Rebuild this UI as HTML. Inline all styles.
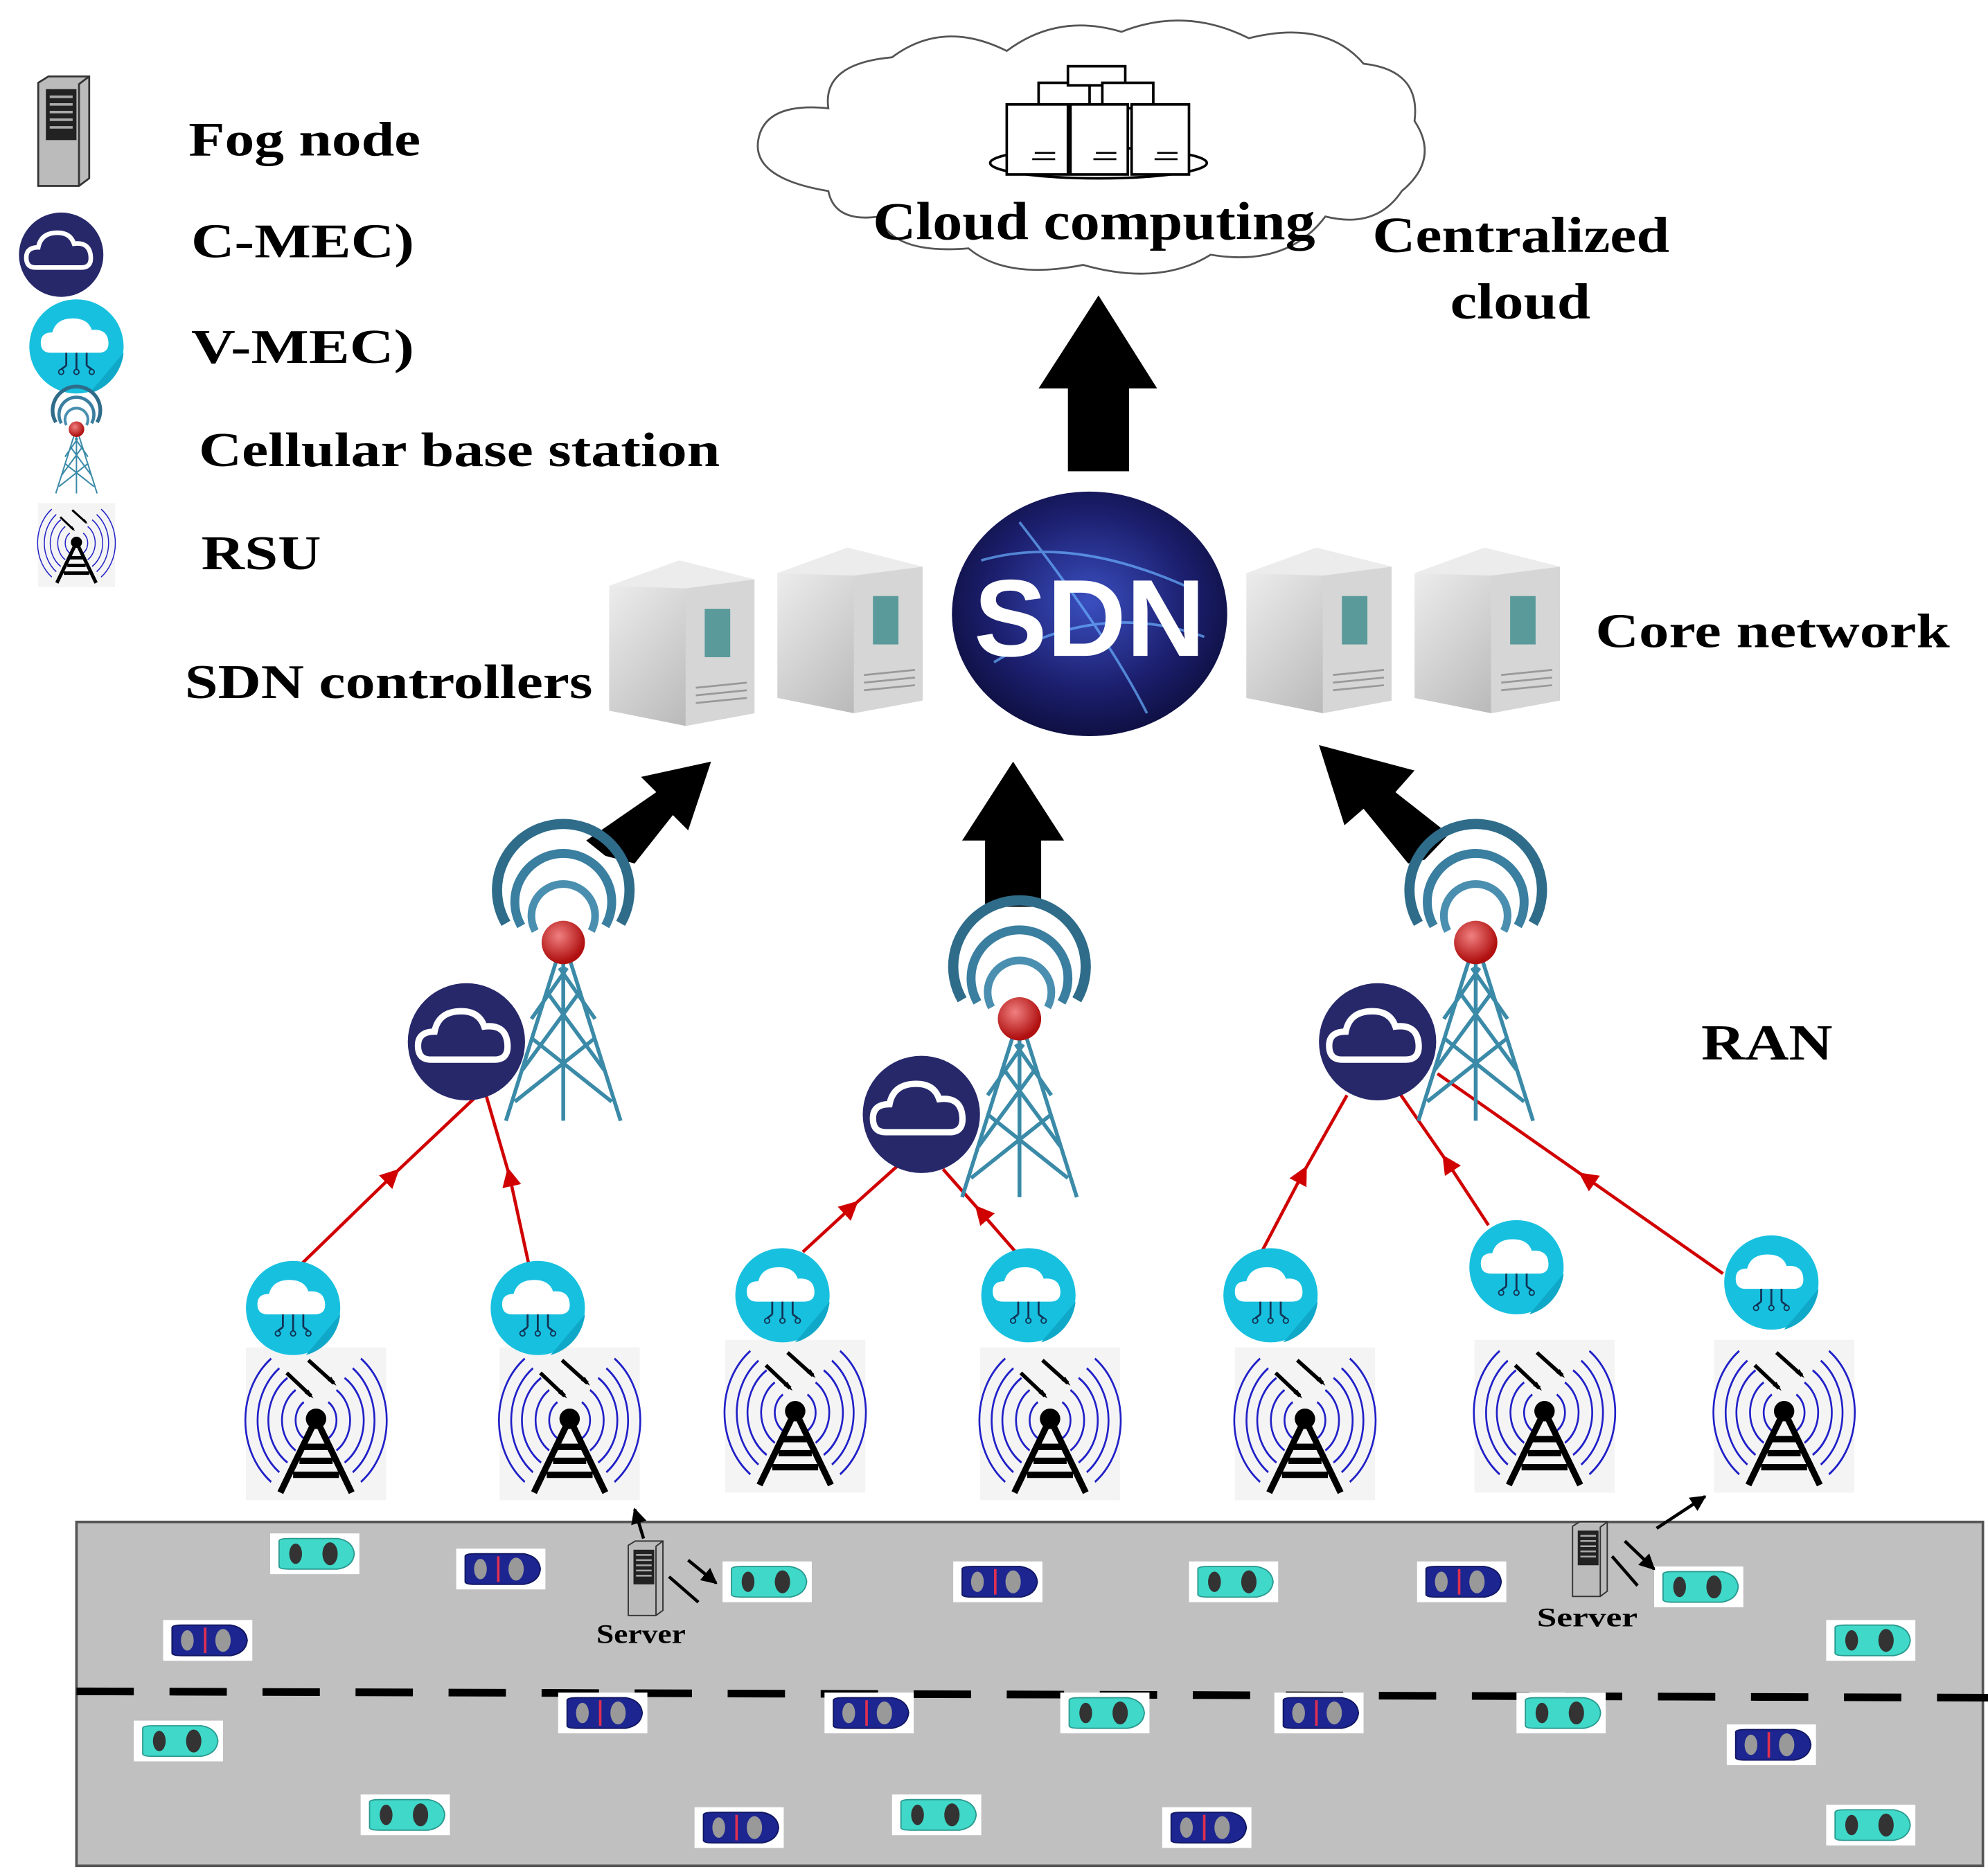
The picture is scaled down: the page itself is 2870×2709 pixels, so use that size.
<!DOCTYPE html>
<html><head><meta charset="utf-8"><style>
html,body{margin:0;padding:0;background:#fff}
svg{display:block}
text{font-family:"Liberation Serif",serif;font-weight:bold;fill:#000}
</style></head><body>
<svg width="2870" height="2709" viewBox="0 0 1560 1473" preserveAspectRatio="none" xmlns="http://www.w3.org/2000/svg">
<defs>
<radialGradient id="sdn" cx="0.5" cy="0.45" r="0.6"><stop offset="0" stop-color="#3a4fc0"/><stop offset="0.6" stop-color="#1c1f6e"/><stop offset="1" stop-color="#0b0c38"/></radialGradient>
<linearGradient id="srv" x1="0" y1="0" x2="1" y2="1"><stop offset="0" stop-color="#f2f2f2"/><stop offset="1" stop-color="#a8a8a8"/></linearGradient>
<radialGradient id="ball" cx="0.4" cy="0.35" r="0.6"><stop offset="0" stop-color="#f08080"/><stop offset="1" stop-color="#b01010"/></radialGradient>
<g id="server">
  <path d="M0 20 L55 0 L114 15 L114 120 L60 130 L0 118 Z" fill="url(#srv)"/>
  <path d="M60 22 L114 15 L114 120 L60 130 Z" fill="#d6d6d6"/>
  <path d="M0 20 L55 0 L114 15 L60 22 Z" fill="#ececec"/>
  <rect x="75" y="38" width="20" height="38" fill="#5a9a9a"/>
  <path d="M68 100 L108 96 M68 106 L108 102 M68 112 L108 108" stroke="#999" stroke-width="1.5"/>
</g>
<g id="celltower">
  <path d="M-45 -5 A52 52 0 1 1 45 -5" fill="none" stroke="#2e6c8a" stroke-width="8" transform="translate(0,-10)"/>
  <path d="M-33 -5 A38 38 0 1 1 33 -5" fill="none" stroke="#3a7ea0" stroke-width="7" transform="translate(0,-8)"/>
  <path d="M-22 -3 A25 25 0 1 1 22 -3" fill="none" stroke="#4a8fb0" stroke-width="6" transform="translate(0,-6)"/>
  <path d="M-4 10 L-45 140 M4 10 L45 140 M-3 20 L25 60 M3 20 L-25 60 M-12 40 L32 100 M12 40 L-32 100 M-25 75 L38 125 M25 75 L-38 125 M0 10 L0 140" stroke="#3a8aa8" stroke-width="3" fill="none"/>
  <circle cx="0" cy="0" r="17" fill="url(#ball)"/>
</g>
<g id="cmec">
  <circle r="46" fill="#27286a"/>
  <path d="M-28 14 Q-38 14 -38 3 Q-38 -8 -25 -8 Q-22 -24 -4 -24 Q10 -24 14 -12 Q30 -14 32 0 Q34 14 22 14 Z" fill="none" stroke="#fff" stroke-width="5"/>
</g>
<g id="vmec">
  <circle r="37" fill="#18c0df"/>
  <path d="M10 37 L37 5 A37 37 0 0 1 10 37Z" fill="#10a8c8"/>
  <path d="M-20 5 Q-28 5 -28 -3 Q-28 -11 -19 -11 Q-16 -22 -3 -22 Q9 -22 12 -13 Q24 -14 25 -4 Q26 5 17 5 Z" fill="#fff"/>
  <path d="M-8 5 L-8 15 M0 5 L0 18 M8 5 L8 15 M-8 15 L-12 18 M8 15 L12 18" stroke="#135" stroke-width="1.5" fill="none"/>
  <circle cx="-12" cy="20" r="2" fill="none" stroke="#135"/><circle cx="0" cy="20" r="2" fill="none" stroke="#135"/><circle cx="12" cy="20" r="2" fill="none" stroke="#135"/>
</g>
<g id="rsu">
  <rect x="-55" y="-60" width="110" height="120" fill="#f4f4f4"/>
  <g fill="none" stroke="#2020c8" stroke-width="1.8" transform="scale(0.8,0.95)">
    <path d="M-12 -18 A18 18 0 0 0 -12 12"/><path d="M12 -18 A18 18 0 0 1 12 12"/>
    <path d="M-20 -28 A30 30 0 0 0 -20 22"/><path d="M20 -28 A30 30 0 0 1 20 22"/>
    <path d="M-28 -38 A42 42 0 0 0 -28 32"/><path d="M28 -38 A42 42 0 0 1 28 32"/>
    <path d="M-36 -46 A54 54 0 0 0 -36 40"/><path d="M36 -46 A54 54 0 0 1 36 40"/>
    <path d="M-44 -54 A64 64 0 0 0 -44 48"/><path d="M44 -54 A64 64 0 0 1 44 48"/>
  </g>
  <circle cx="0" cy="-4" r="8" fill="#000"/>
  <path d="M0 -4 L-28 54 M0 -4 L28 54 M-9 18 L9 18 M-13 29 L13 29 M-18 40 L18 40" stroke="#000" stroke-width="5" fill="none"/>
  <path d="M-23 -40 L-4 -22 M-6 -50 L14 -32" stroke="#000" stroke-width="3"/>
  <path d="M-2 -20 L-9 -24 L-6 -27Z M16 -30 L9 -34 L12 -37Z" fill="#000"/>
</g>
<g id="teal">
  <rect x="-35" y="-16" width="70" height="32" fill="#fff"/>
  <path d="M-28 -10 Q-28 -12 -20 -12 L18 -12 Q30 -10 31 0 Q30 10 18 12 L-20 12 Q-28 12 -28 10 Z" fill="#40d8c8" stroke="#2a9a90" stroke-width="1"/>
  <ellipse cx="-15" cy="0" rx="5" ry="8" fill="#333"/><ellipse cx="12" cy="0" rx="6" ry="9" fill="#333"/>
</g>
<g id="navy">
  <rect x="-35" y="-16" width="70" height="32" fill="#fff"/>
  <path d="M-28 -10 Q-28 -12 -20 -12 L18 -12 Q30 -10 31 0 Q30 10 18 12 L-20 12 Q-28 12 -28 10 Z" fill="#1c2590" stroke="#101660" stroke-width="1"/>
  <ellipse cx="-16" cy="0" rx="5" ry="8" fill="#999"/><ellipse cx="12" cy="0" rx="6" ry="9" fill="#999"/>
  <path d="M-2 -10 L-2 10" stroke="#e03050" stroke-width="2"/>
</g>
<g id="fog">
  <path d="M0 5 L8 0 L40 0 L40 80 L32 86 L0 86 Z" fill="#bbb" stroke="#333" stroke-width="1.5"/>
  <rect x="6" y="10" width="24" height="40" fill="#222"/>
  <path d="M9 16 H27 M9 22 H27 M9 28 H27 M9 34 H27 M9 40 H27" stroke="#aaa" stroke-width="2"/>
  <path d="M32 86 L32 6 L40 0" fill="none" stroke="#333" stroke-width="1.5"/>
</g>
<marker id="ra" viewBox="0 0 10 10" refX="5" refY="5" markerWidth="6" markerHeight="6" orient="auto"><path d="M0 0 L10 5 L0 10Z" fill="#d00000"/></marker>
<marker id="ba" viewBox="0 0 10 10" refX="9" refY="5" markerWidth="5" markerHeight="5" orient="auto"><path d="M0 0 L10 5 L0 10Z" fill="#000"/></marker>
</defs>

<!-- legend -->
<g transform="translate(30,60)"><use href="#fog"/></g>
<text x="148" y="122" font-size="38" textLength="182" lengthAdjust="spacingAndGlyphs">Fog node</text>
<g transform="translate(48,200) scale(0.72)"><use href="#cmec"/></g>
<text x="150" y="202" font-size="38" textLength="175" lengthAdjust="spacingAndGlyphs">C-MEC)</text>
<g transform="translate(60,272)"><use href="#vmec"/></g>
<text x="150" y="285" font-size="38" textLength="175" lengthAdjust="spacingAndGlyphs">V-MEC)</text>
<g transform="translate(60,337) scale(0.36)"><use href="#celltower"/></g>
<text x="156" y="366" font-size="38" textLength="409" lengthAdjust="spacingAndGlyphs">Cellular base station</text>
<g transform="translate(60,428) scale(0.55)"><use href="#rsu"/></g>
<text x="158" y="447" font-size="38" textLength="94" lengthAdjust="spacingAndGlyphs">RSU</text>

<!-- cloud -->
<path d="M650 150 Q590 140 595 110 Q600 80 650 85 Q645 50 700 45 Q740 15 790 40 Q830 10 880 25 Q930 5 980 30 Q1040 15 1070 50 Q1115 55 1110 95 Q1130 125 1100 150 Q1080 180 1040 170 Q1010 210 950 200 Q910 225 850 208 Q790 220 760 195 Q700 200 690 170 Q655 175 650 150 Z" fill="#fff" stroke="#555" stroke-width="1.5"/>
<g fill="#fff" stroke="#000" stroke-width="2">
<ellipse cx="862" cy="128" rx="85" ry="12"/>
<rect x="815" y="65" width="40" height="20"/><rect x="838" y="52" width="45" height="15"/><rect x="865" y="65" width="40" height="20"/>
<rect x="790" y="82" width="48" height="55"/><rect x="840" y="82" width="45" height="55"/><rect x="888" y="82" width="45" height="55"/>
</g>
<path d="M810 125 H828 M858 125 H876 M906 125 H924 M812 120 H828 M860 120 H876 M908 120 H924" stroke="#000" stroke-width="1.5"/>
<text x="685" y="188" font-size="42" textLength="347" lengthAdjust="spacingAndGlyphs">Cloud computing</text>
<text x="1077" y="198" font-size="40" textLength="233" lengthAdjust="spacingAndGlyphs">Centralized</text>
<text x="1138" y="250" font-size="40" textLength="110" lengthAdjust="spacingAndGlyphs">cloud</text>

<!-- big arrows -->
<path d="M838 370 L838 305 L815 305 L862 232 L908 305 L886 305 L886 370 Z" fill="#000"/>
<path d="M773 712 L773 660 L755 660 L795 598 L835 660 L817 660 L817 712 Z" fill="#000"/>
<path d="M475 672 L460 660 L515 622 L503 610 L558 598 L540 652 L528 640 L498 678 Z" fill="#000"/>
<path d="M1118 675 L1137 655 L1095 622 L1110 605 L1035 585 L1055 648 L1070 635 L1105 678 Z" fill="#000"/>

<!-- servers + SDN -->
<g transform="translate(478,440)"><use href="#server"/></g>
<g transform="translate(610,430)"><use href="#server"/></g>
<g transform="translate(978,430)"><use href="#server"/></g>
<g transform="translate(1110,430)"><use href="#server"/></g>
<ellipse cx="855" cy="482" rx="108" ry="96" fill="url(#sdn)"/>
<path d="M770 440 Q840 420 930 460 M780 520 Q860 470 945 500 M800 410 Q870 500 900 560" stroke="#6ab0ff" stroke-width="2" fill="none" opacity="0.7"/>
<text x="855" y="515" font-size="86" text-anchor="middle" style="font-family:'Liberation Sans',sans-serif;fill:#fff">SDN</text>
<text x="145" y="548" font-size="38" textLength="320" lengthAdjust="spacingAndGlyphs">SDN controllers</text>
<text x="1252" y="508" font-size="38" textLength="278" lengthAdjust="spacingAndGlyphs">Core network</text>
<text x="1335" y="832" font-size="40" textLength="103" lengthAdjust="spacingAndGlyphs">RAN</text>

<!-- red links -->
<g stroke="#d00000" stroke-width="2.5" fill="none">
<path d="M237 992 L308 923" marker-end="url(#ra)"/><path d="M308 923 L380 855"/>
<path d="M415 993 L400 924" marker-end="url(#ra)"/><path d="M400 924 L380 855"/>
<path d="M630 983 L668 948" marker-end="url(#ra)"/><path d="M668 948 L707 913"/>
<path d="M797 983 L770 952" marker-end="url(#ra)"/><path d="M770 952 L740 918"/>
<path d="M990 983 L1022 922" marker-end="url(#ra)"/><path d="M1022 922 L1057 860"/>
<path d="M1168 962 L1136 913" marker-end="url(#ra)"/><path d="M1136 913 L1098 858"/>
<path d="M1352 1000 L1245 925" marker-end="url(#ra)"/><path d="M1245 925 L1128 843"/>
</g>

<!-- cell towers + C-MEC -->
<g transform="translate(442,740)"><use href="#celltower"/></g>
<g transform="translate(800,800)"><use href="#celltower"/></g>
<g transform="translate(1158,740)"><use href="#celltower"/></g>
<g transform="translate(366,818)"><use href="#cmec"/></g>
<g transform="translate(723,875)"><use href="#cmec"/></g>
<g transform="translate(1081,818)"><use href="#cmec"/></g>

<!-- RSUs -->
<g transform="translate(248,1118)"><use href="#rsu"/></g>
<g transform="translate(447,1118)"><use href="#rsu"/></g>
<g transform="translate(624,1112)"><use href="#rsu"/></g>
<g transform="translate(824,1118)"><use href="#rsu"/></g>
<g transform="translate(1024,1118)"><use href="#rsu"/></g>
<g transform="translate(1212,1112)"><use href="#rsu"/></g>
<g transform="translate(1400,1112)"><use href="#rsu"/></g>

<!-- V-MECs -->
<g transform="translate(230,1027)"><use href="#vmec"/></g>
<g transform="translate(422,1027)"><use href="#vmec"/></g>
<g transform="translate(614,1017)"><use href="#vmec"/></g>
<g transform="translate(807,1017)"><use href="#vmec"/></g>
<g transform="translate(997,1017)"><use href="#vmec"/></g>
<g transform="translate(1190,995)"><use href="#vmec"/></g>
<g transform="translate(1390,1007)"><use href="#vmec"/></g>

<!-- road -->
<rect x="60" y="1195" width="1496" height="270" fill="#c0c0c0" stroke="#555" stroke-width="2"/>
<path d="M60 1328 L1560 1333" stroke="#000" stroke-width="6" stroke-dasharray="45 28"/>

<!-- cars -->
<g transform="translate(247,1220)"><use href="#teal"/></g>
<g transform="translate(602,1242)"><use href="#teal"/></g>
<g transform="translate(968,1242)"><use href="#teal"/></g>
<g transform="translate(1333,1246)"><use href="#teal"/></g>
<g transform="translate(1468,1288)"><use href="#teal"/></g>
<g transform="translate(140,1367)"><use href="#teal"/></g>
<g transform="translate(867,1345)"><use href="#teal"/></g>
<g transform="translate(1225,1345)"><use href="#teal"/></g>
<g transform="translate(318,1425)"><use href="#teal"/></g>
<g transform="translate(735,1425)"><use href="#teal"/></g>
<g transform="translate(1468,1433)"><use href="#teal"/></g>
<g transform="translate(393,1232)"><use href="#navy"/></g>
<g transform="translate(163,1288)"><use href="#navy"/></g>
<g transform="translate(783,1242)"><use href="#navy"/></g>
<g transform="translate(1147,1242)"><use href="#navy"/></g>
<g transform="translate(473,1345)"><use href="#navy"/></g>
<g transform="translate(682,1345)"><use href="#navy"/></g>
<g transform="translate(1035,1345)"><use href="#navy"/></g>
<g transform="translate(1390,1370)"><use href="#navy"/></g>
<g transform="translate(580,1435)"><use href="#navy"/></g>
<g transform="translate(947,1435)"><use href="#navy"/></g>

<!-- road servers -->
<g transform="translate(493,1210) scale(0.68)"><use href="#fog"/></g>
<text x="468" y="1290" font-size="21" textLength="70" lengthAdjust="spacingAndGlyphs">Server</text>
<path d="M505 1208 L498 1185" stroke="#000" stroke-width="2.5" marker-end="url(#ba)"/>
<path d="M525 1238 L548 1258 M540 1225 L562 1243" stroke="#000" stroke-width="2.5" marker-end="url(#ba)"/>
<g transform="translate(1234,1195) scale(0.68)"><use href="#fog"/></g>
<text x="1206" y="1277" font-size="21" textLength="79" lengthAdjust="spacingAndGlyphs">Server</text>
<path d="M1300 1200 L1338 1175" stroke="#000" stroke-width="2.5" marker-end="url(#ba)"/>
<path d="M1265 1222 L1285 1245 M1275 1210 L1298 1232" stroke="#000" stroke-width="2.5" marker-end="url(#ba)"/>
</svg>
</body></html>
